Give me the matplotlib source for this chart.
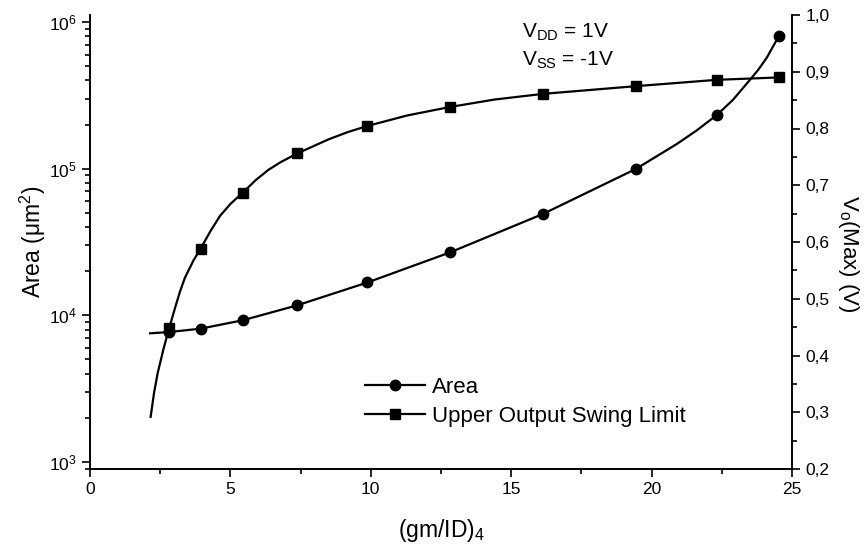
import matplotlib
matplotlib.use("Agg")
from matplotlib import pyplot as plt, rcParams
from matplotlib.ticker import FixedLocator, MultipleLocator, FuncFormatter, LogLocator, NullFormatter
from matplotlib.lines import Line2D
import math

params = {
    'font.family': ['Liberation Sans', 'DejaVu Sans'],
    'mathtext.fontset': 'custom',
    'mathtext.rm': 'Liberation Sans',
    'mathtext.it': 'Liberation Sans:italic',
    'mathtext.bf': 'Liberation Sans:bold',
    'font.size': 12,
    'axes.linewidth': 1.2,
}
rcParams.update(params)

# marker points
gm_id = [2.82, 3.94, 5.44, 7.38, 9.88, 12.83, 16.13, 19.44, 22.33, 24.54]
area = [7690, 8110, 9250, 11700, 16750, 26900, 49100, 99600, 232800, 805000]
swing = [0.4485, 0.5885, 0.687, 0.756, 0.8045, 0.838, 0.861, 0.8746, 0.8858, 0.890]

# points along the drawn curves
area_curve_x = [2.14, 2.82, 3.94, 5.44, 7.38, 9.88, 12.83, 16.13, 19.44, 20.89, 21.6,
                22.33, 22.9, 23.5, 23.8, 24.1, 24.4, 24.54]
area_curve_y = [7540, 7690, 8110, 9250, 11700, 16750, 26900, 49100, 99600, 147000, 182000,
                232800, 295000, 403000, 473000, 571000, 723000, 805000]
swing_curve_x = [2.16, 2.28, 2.41, 2.61, 2.82, 3.03, 3.2, 3.38, 3.68, 3.94, 4.3, 4.63, 5.0,
                 5.44, 5.9, 6.35, 6.8, 7.38, 8.5, 9.2, 9.88, 11.3, 12.83, 14.4, 16.13, 19.44,
                 22.33, 24.54]
swing_curve_y = [0.292, 0.334, 0.369, 0.410, 0.4485, 0.484, 0.512, 0.537, 0.567, 0.5885, 0.620,
                 0.646, 0.667, 0.687, 0.709, 0.727, 0.741, 0.756, 0.781, 0.794, 0.8045, 0.823,
                 0.838, 0.851, 0.861, 0.8746, 0.8858, 0.890]

fig = plt.figure(figsize=(8.65, 5.49), dpi=100)
ax = fig.add_axes([90 / 865, 80 / 549, 702 / 865, 454 / 549])
ax2 = ax.twinx()

ax.plot(area_curve_x, area_curve_y, color='black', lw=1.6, zorder=2,
        solid_joinstyle='round')
ax.plot(gm_id, area, 'o', color='black', ms=7.5, zorder=3)
ax2.plot(swing_curve_x, swing_curve_y, color='black', lw=1.6, zorder=2,
         solid_joinstyle='round')
ax2.plot(gm_id, swing, 's', color='black', ms=7.5, zorder=3)

ax.set_xlim(0, 25)
ax.set_yscale('log')
ax.set_ylim(10 ** 2.952, 10 ** 6.048)
ax2.set_ylim(0.2, 1.0)

ax.xaxis.set_major_locator(MultipleLocator(5))
ax.xaxis.set_minor_locator(MultipleLocator(2.5))
ax.yaxis.set_major_locator(FixedLocator([1e3, 1e4, 1e5, 1e6]))
ax.yaxis.set_minor_locator(LogLocator(base=10, subs=range(2, 10)))
ax.yaxis.set_minor_formatter(NullFormatter())
ax.yaxis.set_major_formatter(FuncFormatter(lambda v, p: r'$\mathregular{10^{%d}}$' % round(math.log10(v))))
ax2.yaxis.set_major_locator(MultipleLocator(0.1))
ax2.yaxis.set_minor_locator(MultipleLocator(0.05))
ax2.yaxis.set_major_formatter(FuncFormatter(lambda v, p: f"{v:.1f}".replace('.', ',')))

for a in (ax, ax2):
    a.spines['top'].set_visible(False)
    a.tick_params(which='major', direction='out', length=6, width=1.2, labelsize=12.5)
    a.tick_params(which='minor', direction='out', length=3.5, width=1.2)

ax.set_xlabel(r'(gm/ID)$\mathregular{_4}$', fontsize=16.5, labelpad=14)
ax.set_ylabel(r'Area ($\mathregular{\mu m^2}$)', fontsize=16.5, labelpad=1)
fig.text(849 / 865, 1 - 254 / 549, r'V$\mathregular{_o}$(Max) (V)', fontsize=16,
         rotation=270, ha='center', va='center')

ax.text(15.4, 10 ** 5.895, r'V$\mathregular{_{DD}}$ = 1V', fontsize=15)
ax.text(15.4, 10 ** 5.705, r'V$\mathregular{_{SS}}$ = -1V', fontsize=15)

handles = [Line2D([], [], color='black', lw=1.6, marker='o', ms=7.5),
           Line2D([], [], color='black', lw=1.6, marker='s', ms=7.5)]
ax2.legend(handles, ['Area', 'Upper Output Swing Limit'], loc='upper left',
           bbox_to_anchor=(345 / 865, 1 - 357 / 549), bbox_transform=fig.transFigure,
           frameon=False, fontsize=16, handlelength=2.7, handletextpad=0.32,
           labelspacing=0.35)

fig.savefig('out.png', dpi=100)
